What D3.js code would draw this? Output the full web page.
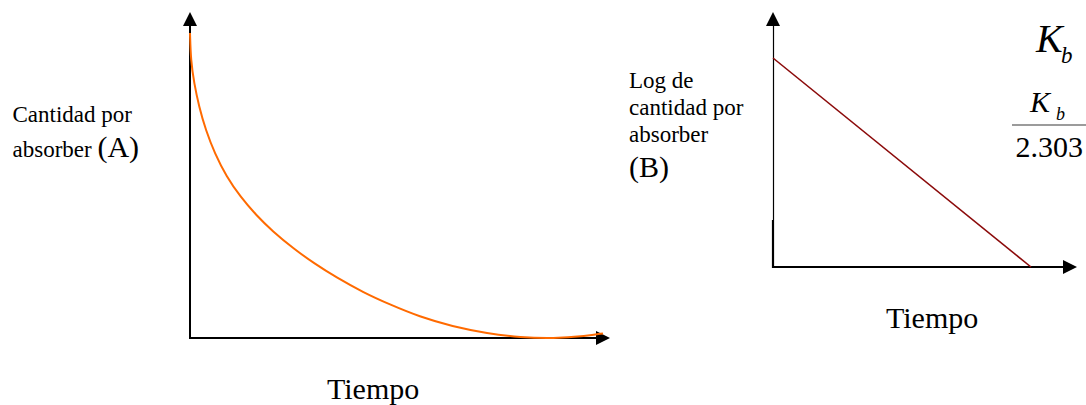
<!DOCTYPE html>
<html>
<head>
<meta charset="utf-8">
<script src="https://cdn.jsdelivr.net/npm/d3@7"></script>
<style>
  html, body { margin: 0; padding: 0; background: #fff; }
  svg { display: block; }
</style>
</head>
<body>
<script>
// Panel A: amount still to be absorbed vs time
const timeA = [0, 0.02, 0.1, 0.22, 0.38, 0.6, 0.88, 1.22, 1.6, 2, 2.5, 3, 3.55, 4.2, 4.85, 5.55, 6.35, 7.2, 8, 8.8, 9.6, 10];
const amountA = [100, 91, 83.5, 75.8, 68.2, 60.5, 53, 46.3, 40.3, 35, 29.4, 24.5, 19.8, 14.9, 10.9, 7, 3.8, 1.5, 0.2, -0.2, 0.7, 1.5];

// Panel B: log of amount vs time (straight line)
const timeB = [0, 10];
const logAmountB = [2, 0];

const labelA = ['Cantidad por', 'absorber'];
const labelB = ['Log de', 'cantidad por', 'absorber'];
const xTitle = 'Tiempo';

const serif = '"Liberation Serif", "Times New Roman", Times, "DejaVu Serif", serif';
const width = 1086, height = 405;

const svg = d3.select('body').append('svg')
  .attr('width', width)
  .attr('height', height);

// scales
const xA = d3.scaleLinear().domain([0, 10]).range([190, 603]);
const yA = d3.scaleLinear().domain([0, 100]).range([338, 33]);
const xB = d3.scaleLinear().domain([0, 10]).range([773, 1031]);
const yB = d3.scaleLinear().domain([0, 2]).range([267, 58]);

// arrow-headed axes drawn from the scale origin
function drawAxes(x, y, xTip, yTip, head, yThinTo) {
  const ox = x.range()[0], oy = y.range()[0];
  const g = svg.append('g').attr('class', 'axes');

  if (yThinTo) {
    // upper part of the y axis is a thin line, lower part is thick
    g.append('line')
      .attr('x1', ox + 0.5).attr('x2', ox + 0.5)
      .attr('y1', yTip + head).attr('y2', yThinTo)
      .attr('stroke', '#000').attr('stroke-width', 1.2);
    g.append('line')
      .attr('x1', ox).attr('x2', ox)
      .attr('y1', yThinTo).attr('y2', oy + 1)
      .attr('stroke', '#000').attr('stroke-width', 2.2);
  } else {
    g.append('line')
      .attr('x1', ox).attr('x2', ox)
      .attr('y1', yTip + head).attr('y2', oy + 1)
      .attr('stroke', '#000').attr('stroke-width', 2);
  }

  g.append('line')
    .attr('x1', ox - 1).attr('x2', xTip - head)
    .attr('y1', oy).attr('y2', oy)
    .attr('stroke', '#000').attr('stroke-width', 2);

  const hw = head / 2;
  g.append('path')
    .attr('d', `M${ox},${yTip} L${ox - hw},${yTip + head} L${ox + hw},${yTip + head} Z`)
    .attr('fill', '#000');
  g.append('path')
    .attr('d', `M${xTip},${oy} L${xTip - head},${oy - hw} L${xTip - head},${oy + hw} Z`)
    .attr('fill', '#000');
}

drawAxes(xA, yA, 610, 12, 14);
drawAxes(xB, yB, 1077, 12, 14, 220);

// curve A (smoothed spline through the read points)
const lineA = d3.line()
  .x(d => xA(d[0]))
  .y(d => yA(d[1]))
  .curve(d3.curveBasis);

svg.append('path')
  .datum(d3.zip(timeA, amountA))
  .attr('d', lineA)
  .attr('fill', 'none')
  .attr('stroke', '#ff6a00')
  .attr('stroke-width', 2);

// line B
const lineB = d3.line()
  .x(d => xB(d[0]))
  .y(d => yB(d[1]));

svg.append('path')
  .datum(d3.zip(timeB, logAmountB))
  .attr('d', lineB)
  .attr('fill', 'none')
  .attr('stroke', '#8b0a0a')
  .attr('stroke-width', 1.6);

function label(x, y, size, str, italic) {
  return svg.append('text')
    .attr('x', x).attr('y', y)
    .attr('font-family', serif)
    .attr('font-size', size)
    .attr('font-style', italic ? 'italic' : 'normal')
    .attr('fill', '#000')
    .text(str);
}

// y labels
label(12.5, 122, 23, labelA[0]);
const tA = label(12.5, 157, 23, labelA[1] + ' ');
tA.append('tspan').attr('font-size', 30).text('(A)');

labelB.forEach((s, i) => label(629, 88 + i * 27, 23, s));
label(629, 177, 30, '(B)');

// x titles
label(327, 399, 30, xTitle);
label(886, 328, 30, xTitle);

// Kb and Kb / 2.303
label(1036, 52, 40, 'K', true);
label(1061, 63, 23, 'b', true);
label(1030, 112, 30, 'K', true);
label(1056, 120, 18, 'b', true);

svg.append('line')
  .attr('x1', 1012).attr('x2', 1086)
  .attr('y1', 125).attr('y2', 125)
  .attr('stroke', '#7a7a7a').attr('stroke-width', 1.5);

label(1083, 157, 30, '2.303').attr('text-anchor', 'end');
</script>
</body>
</html>
